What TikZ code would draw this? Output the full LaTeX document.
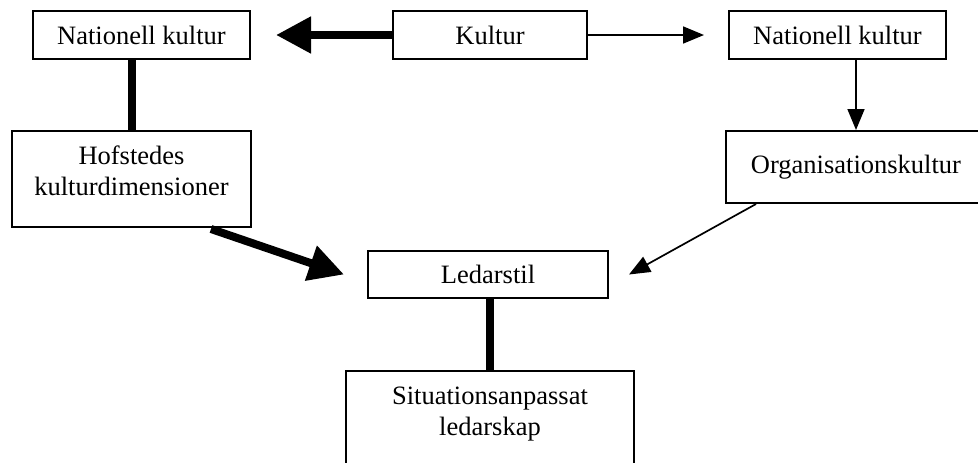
\documentclass[tikz,border=0pt]{standalone}
\usepackage{fontspec}
\setmainfont{Liberation Serif}
\usetikzlibrary{arrows.meta,calc}
% two centred lines, with extra room below so the block sits a little high
\newcommand{\twolines}[2]{\raisebox{0pt}[\height][\dimexpr\depth+11pt\relax]{%
  \begin{tabular}{@{}c@{}}#1\\#2\end{tabular}}}
\begin{document}
\begin{tikzpicture}[x=1pt,y=-1pt,
  box/.style={draw,line width=2pt,rectangle,inner sep=0pt,align=center,
    font=\fontsize{26.5}{31}\selectfont},
  heavy/.style={line width=8pt},
  heavyarrow/.style={line width=8pt,-{Triangle[length=35pt,width=35pt]}},
  lightarrow/.style={line width=1.7pt,-{Triangle[length=21pt,width=17pt]}}]
  \useasboundingbox (0,0) rectangle (978,463);
  \clip (0,0) rectangle (978,463);

  % boxes
  \node[box,minimum width=217pt,minimum height=48pt] (nl) at (141.5,35) {Nationell kultur};
  \node[box,minimum width=194pt,minimum height=48pt] (ku) at (490,35) {Kultur};
  \node[box,minimum width=217pt,minimum height=48pt] (nr) at (837.5,35) {Nationell kultur};
  \node[box,minimum width=239pt,minimum height=96pt] (hof) at (131.5,179) {\twolines{Hofstedes}{kulturdimensioner}};
  \node[box,minimum width=260pt,minimum height=72pt] (org) at (856,167) {Organisationskultur};
  \node[box,minimum width=240pt,minimum height=47pt] (led) at (488,274.5) {Ledarstil};
  \node[box,minimum width=288pt,minimum height=96pt] (sit) at (490,419) {\twolines{Situationsanpassat}{ledarskap}};

  % connectors
  \draw[heavyarrow,shorten >=25pt] (ku.west) -- (nl.east);
  \draw[lightarrow,shorten >=24pt] (ku.east) -- (nr.west);
  \draw[heavy] (hof.north |- nl.south) -- (hof.north);
  \draw[lightarrow] (org.north |- nr.south) -- (org.north);
  \coordinate (hofout) at ($(hof.south east)+(-41,1)$);
  \coordinate (ledin) at ($(led.west)+(-23,0)$);
  \draw[heavyarrow] (hofout) -- (ledin);
  \coordinate (orgout) at ($(org.south west)+(31,0)$);
  \coordinate (ledright) at ($(led.east)+(20,0)$);
  \draw[lightarrow] (orgout) -- (ledright);
  \draw[heavy] (sit.north |- led.south) -- (sit.north);
\end{tikzpicture}
\end{document}
